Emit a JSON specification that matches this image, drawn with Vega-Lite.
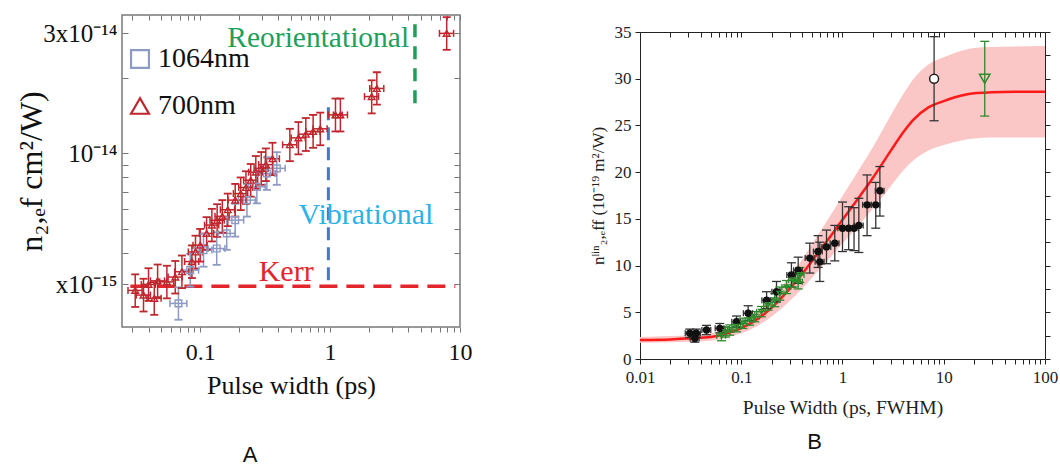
{
  "$schema": "https://vega.github.io/schema/vega-lite/v6.json",
  "background": "white",
  "padding": {"left": 15, "top": 12, "right": 0, "bottom": 0},
  "spacing": 115,
  "resolve": {"scale": {"color": "independent", "shape": "independent"}, "legend": {"color": "independent", "shape": "independent"}},
  "datasets": {
    "aPts": [
      {"s":"1064nm","x":0.068,"y":2.52,"xlo":0.0585,"xhi":0.0789,"ylo":2.17,"yhi":2.92},
      {"s":"1064nm","x":0.0838,"y":3.42,"xlo":0.0721,"xhi":0.0972,"ylo":2.94,"yhi":3.97},
      {"s":"1064nm","x":0.106,"y":4.11,"xlo":0.0912,"xhi":0.123,"ylo":3.53,"yhi":4.77},
      {"s":"1064nm","x":0.134,"y":4.17,"xlo":0.115,"xhi":0.155,"ylo":3.59,"yhi":4.84},
      {"s":"1064nm","x":0.16,"y":4.79,"xlo":0.138,"xhi":0.186,"ylo":4.12,"yhi":5.56},
      {"s":"1064nm","x":0.186,"y":5.41,"xlo":0.16,"xhi":0.216,"ylo":4.65,"yhi":6.28},
      {"s":"1064nm","x":0.229,"y":6.5,"xlo":0.197,"xhi":0.266,"ylo":5.59,"yhi":7.54},
      {"s":"1064nm","x":0.273,"y":7.34,"xlo":0.235,"xhi":0.317,"ylo":6.31,"yhi":8.51},
      {"s":"1064nm","x":0.326,"y":8.3,"xlo":0.28,"xhi":0.378,"ylo":7.14,"yhi":9.63},
      {"s":"1064nm","x":0.389,"y":8.7,"xlo":0.335,"xhi":0.451,"ylo":7.48,"yhi":10.09},
      {"s":"700nm","x":0.0316,"y":2.84,"xlo":0.0278,"xhi":0.0357,"ylo":2.44,"yhi":3.29},
      {"s":"700nm","x":0.0366,"y":2.72,"xlo":0.0322,"xhi":0.0414,"ylo":2.34,"yhi":3.16},
      {"s":"700nm","x":0.04,"y":3.0,"xlo":0.0352,"xhi":0.0452,"ylo":2.58,"yhi":3.48},
      {"s":"700nm","x":0.0443,"y":2.64,"xlo":0.039,"xhi":0.05,"ylo":2.27,"yhi":3.06},
      {"s":"700nm","x":0.047,"y":3.1,"xlo":0.0414,"xhi":0.0531,"ylo":2.67,"yhi":3.6},
      {"s":"700nm","x":0.0554,"y":3.07,"xlo":0.0488,"xhi":0.0626,"ylo":2.64,"yhi":3.56},
      {"s":"700nm","x":0.0643,"y":3.21,"xlo":0.0566,"xhi":0.0727,"ylo":2.76,"yhi":3.72},
      {"s":"700nm","x":0.0723,"y":3.37,"xlo":0.0636,"xhi":0.0817,"ylo":2.9,"yhi":3.91},
      {"s":"700nm","x":0.0863,"y":3.7,"xlo":0.0759,"xhi":0.0975,"ylo":3.18,"yhi":4.29},
      {"s":"700nm","x":0.092,"y":4.04,"xlo":0.081,"xhi":0.104,"ylo":3.47,"yhi":4.69},
      {"s":"700nm","x":0.1,"y":4.3,"xlo":0.088,"xhi":0.113,"ylo":3.7,"yhi":4.99},
      {"s":"700nm","x":0.112,"y":4.79,"xlo":0.0986,"xhi":0.127,"ylo":4.12,"yhi":5.56},
      {"s":"700nm","x":0.123,"y":5.17,"xlo":0.108,"xhi":0.139,"ylo":4.45,"yhi":6.0},
      {"s":"700nm","x":0.135,"y":5.4,"xlo":0.119,"xhi":0.153,"ylo":4.64,"yhi":6.26},
      {"s":"700nm","x":0.148,"y":5.6,"xlo":0.13,"xhi":0.167,"ylo":4.82,"yhi":6.5},
      {"s":"700nm","x":0.163,"y":5.95,"xlo":0.143,"xhi":0.184,"ylo":5.12,"yhi":6.9},
      {"s":"700nm","x":0.186,"y":6.5,"xlo":0.164,"xhi":0.21,"ylo":5.59,"yhi":7.54},
      {"s":"700nm","x":0.205,"y":6.9,"xlo":0.18,"xhi":0.232,"ylo":5.93,"yhi":8.0},
      {"s":"700nm","x":0.225,"y":7.3,"xlo":0.198,"xhi":0.254,"ylo":6.28,"yhi":8.47},
      {"s":"700nm","x":0.245,"y":7.8,"xlo":0.216,"xhi":0.277,"ylo":6.71,"yhi":9.05},
      {"s":"700nm","x":0.268,"y":8.4,"xlo":0.236,"xhi":0.303,"ylo":7.22,"yhi":9.74},
      {"s":"700nm","x":0.295,"y":8.7,"xlo":0.26,"xhi":0.333,"ylo":7.48,"yhi":10.1},
      {"s":"700nm","x":0.32,"y":9.0,"xlo":0.282,"xhi":0.362,"ylo":7.74,"yhi":10.44},
      {"s":"700nm","x":0.36,"y":9.5,"xlo":0.317,"xhi":0.407,"ylo":8.17,"yhi":11.0},
      {"s":"700nm","x":0.49,"y":10.8,"xlo":0.431,"xhi":0.554,"ylo":9.29,"yhi":12.5},
      {"s":"700nm","x":0.57,"y":11.5,"xlo":0.502,"xhi":0.644,"ylo":9.89,"yhi":13.3},
      {"s":"700nm","x":0.65,"y":11.9,"xlo":0.572,"xhi":0.735,"ylo":10.2,"yhi":13.8},
      {"s":"700nm","x":0.74,"y":12.2,"xlo":0.651,"xhi":0.836,"ylo":10.5,"yhi":14.2},
      {"s":"700nm","x":0.84,"y":12.5,"xlo":0.739,"xhi":0.949,"ylo":10.75,"yhi":14.5},
      {"s":"700nm","x":1.1,"y":14.2,"xlo":0.968,"xhi":1.24,"ylo":12.2,"yhi":16.5},
      {"s":"700nm","x":1.2,"y":14.2,"xlo":1.06,"xhi":1.36,"ylo":12.2,"yhi":16.5},
      {"s":"700nm","x":2.09,"y":16.8,"xlo":1.84,"xhi":2.36,"ylo":14.4,"yhi":19.5},
      {"s":"700nm","x":2.29,"y":18.1,"xlo":2.02,"xhi":2.59,"ylo":15.6,"yhi":21.0},
      {"s":"700nm","x":7.9,"y":30.0,"xlo":6.95,"xhi":8.93,"ylo":25.8,"yhi":34.8}
    ],
    "bCurve": [
      {"x":0.01,"fit":2.03,"lo":1.75,"hi":2.35},
      {"x":0.02,"fit":2.1,"lo":1.8,"hi":2.45},
      {"x":0.03,"fit":2.2,"lo":1.85,"hi":2.55},
      {"x":0.05,"fit":2.35,"lo":1.95,"hi":2.75},
      {"x":0.07,"fit":2.7,"lo":2.25,"hi":3.15},
      {"x":0.1,"fit":3.3,"lo":2.75,"hi":3.85},
      {"x":0.15,"fit":4.4,"lo":3.65,"hi":5.15},
      {"x":0.2,"fit":5.5,"lo":4.55,"hi":6.45},
      {"x":0.3,"fit":7.5,"lo":6.2,"hi":8.8},
      {"x":0.4,"fit":9.1,"lo":7.55,"hi":10.65},
      {"x":0.5,"fit":10.5,"lo":8.7,"hi":12.3},
      {"x":0.7,"fit":12.6,"lo":10.45,"hi":14.75},
      {"x":1.0,"fit":14.9,"lo":12.35,"hi":17.45},
      {"x":1.5,"fit":17.5,"lo":14.5,"hi":20.5},
      {"x":2.0,"fit":19.4,"lo":16.1,"hi":22.7},
      {"x":3.0,"fit":22.3,"lo":18.5,"hi":26.1},
      {"x":4.0,"fit":24.3,"lo":20.2,"hi":28.4},
      {"x":5.0,"fit":25.6,"lo":21.25,"hi":29.95},
      {"x":7.0,"fit":26.9,"lo":22.3,"hi":31.5},
      {"x":10,"fit":27.6,"lo":22.9,"hi":32.3},
      {"x":15,"fit":28.2,"lo":23.4,"hi":33.0},
      {"x":20,"fit":28.45,"lo":23.6,"hi":33.3},
      {"x":30,"fit":28.55,"lo":23.7,"hi":33.4},
      {"x":50,"fit":28.6,"lo":23.7,"hi":33.45},
      {"x":100,"fit":28.6,"lo":23.7,"hi":33.5}
    ],
    "bPts": [
      {"grp":"black","x":0.031,"y":2.75,"xlo":0.028,"xhi":0.034,"ylo":2.3,"yhi":3.2},
      {"grp":"black","x":0.0348,"y":2.2,"xlo":0.0313,"xhi":0.0383,"ylo":1.8,"yhi":2.6},
      {"grp":"black","x":0.036,"y":2.75,"xlo":0.0324,"xhi":0.0396,"ylo":2.3,"yhi":3.2},
      {"grp":"black","x":0.0454,"y":3.1,"xlo":0.0409,"xhi":0.05,"ylo":2.6,"yhi":3.6},
      {"grp":"black","x":0.0614,"y":3.28,"xlo":0.0553,"xhi":0.0675,"ylo":2.8,"yhi":3.8},
      {"grp":"black","x":0.0898,"y":4.0,"xlo":0.0808,"xhi":0.0988,"ylo":3.4,"yhi":4.6},
      {"grp":"black","x":0.117,"y":4.9,"xlo":0.105,"xhi":0.129,"ylo":4.1,"yhi":5.7},
      {"grp":"black","x":0.178,"y":6.3,"xlo":0.16,"xhi":0.196,"ylo":5.4,"yhi":7.2},
      {"grp":"black","x":0.223,"y":7.2,"xlo":0.201,"xhi":0.245,"ylo":6.1,"yhi":8.3},
      {"grp":"black","x":0.313,"y":9.0,"xlo":0.282,"xhi":0.344,"ylo":7.7,"yhi":10.3},
      {"grp":"black","x":0.365,"y":9.5,"xlo":0.329,"xhi":0.402,"ylo":8.1,"yhi":10.9},
      {"grp":"black","x":0.475,"y":10.8,"xlo":0.428,"xhi":0.523,"ylo":9.2,"yhi":12.4},
      {"grp":"black","x":0.574,"y":11.5,"xlo":0.517,"xhi":0.631,"ylo":9.8,"yhi":13.2},
      {"grp":"black","x":0.597,"y":10.4,"xlo":0.537,"xhi":0.657,"ylo":8.3,"yhi":12.5},
      {"grp":"black","x":0.695,"y":12.0,"xlo":0.626,"xhi":0.765,"ylo":10.2,"yhi":13.8},
      {"grp":"black","x":0.839,"y":12.4,"xlo":0.755,"xhi":0.923,"ylo":10.5,"yhi":14.3},
      {"grp":"black","x":1.0,"y":14.0,"xlo":0.9,"xhi":1.1,"ylo":11.5,"yhi":16.8},
      {"grp":"black","x":1.15,"y":14.0,"xlo":1.04,"xhi":1.27,"ylo":11.7,"yhi":16.3},
      {"grp":"black","x":1.3,"y":14.0,"xlo":1.17,"xhi":1.43,"ylo":11.6,"yhi":16.2},
      {"grp":"black","x":1.45,"y":14.3,"xlo":1.31,"xhi":1.6,"ylo":11.4,"yhi":17.2},
      {"grp":"black","x":1.75,"y":16.5,"xlo":1.58,"xhi":1.93,"ylo":13.2,"yhi":19.7},
      {"grp":"black","x":2.13,"y":16.5,"xlo":1.92,"xhi":2.34,"ylo":14.0,"yhi":18.9},
      {"grp":"black","x":2.34,"y":18.0,"xlo":2.11,"xhi":2.57,"ylo":15.3,"yhi":20.6},
      {"grp":"green","x":0.0638,"y":2.5,"xlo":0.0574,"xhi":0.0702,"ylo":1.95,"yhi":3.05},
      {"grp":"green","x":0.07,"y":2.9,"xlo":0.063,"xhi":0.077,"ylo":2.35,"yhi":3.45},
      {"grp":"green","x":0.077,"y":3.1,"xlo":0.0693,"xhi":0.0847,"ylo":2.55,"yhi":3.65},
      {"grp":"green","x":0.0898,"y":3.46,"xlo":0.0808,"xhi":0.0988,"ylo":2.91,"yhi":4.01},
      {"grp":"green","x":0.104,"y":3.82,"xlo":0.0936,"xhi":0.114,"ylo":3.27,"yhi":4.37},
      {"grp":"green","x":0.121,"y":4.17,"xlo":0.109,"xhi":0.133,"ylo":3.62,"yhi":4.72},
      {"grp":"green","x":0.136,"y":4.53,"xlo":0.122,"xhi":0.15,"ylo":3.98,"yhi":5.08},
      {"grp":"green","x":0.158,"y":5.07,"xlo":0.142,"xhi":0.174,"ylo":4.52,"yhi":5.62},
      {"grp":"green","x":0.184,"y":5.78,"xlo":0.166,"xhi":0.202,"ylo":5.23,"yhi":6.33},
      {"grp":"green","x":0.214,"y":6.3,"xlo":0.193,"xhi":0.235,"ylo":5.6,"yhi":7.0},
      {"grp":"green","x":0.24,"y":7.0,"xlo":0.216,"xhi":0.264,"ylo":6.3,"yhi":7.7},
      {"grp":"green","x":0.28,"y":7.7,"xlo":0.252,"xhi":0.308,"ylo":7.0,"yhi":8.4},
      {"grp":"green","x":0.325,"y":8.45,"xlo":0.293,"xhi":0.358,"ylo":7.7,"yhi":9.2},
      {"grp":"green","x":0.365,"y":8.27,"xlo":0.329,"xhi":0.402,"ylo":7.5,"yhi":9.05},
      {"grp":"green","x":0.379,"y":9.0,"xlo":0.341,"xhi":0.417,"ylo":8.2,"yhi":9.8},
      {"grp":"open","x":8.03,"y":30,"xlo":8.03,"xhi":8.03,"ylo":25.5,"yhi":34.5},
      {"grp":"tri","x":25.4,"y":30,"xlo":25.4,"xhi":25.4,"ylo":26.0,"yhi":34.0}
    ]
  },
  "hconcat": [
    {
      "width": 338,
      "height": 312,
      "view": {"stroke": "#7a7a7a", "strokeWidth": 1.5},
      "title": {"text": "A", "orient": "bottom", "anchor": "middle", "frame": "group", "dx": -41, "offset": 47, "font": "Liberation Sans", "fontSize": 22, "fontWeight": "normal", "color": "#111111"},
      "resolve": {"scale": {"x": "independent", "y": "independent"}},
      "layer": [
        {
          "layer": [
            {
              "data": {"name": "aPts"},
              "mark": {"type": "point", "opacity": 0},
              "encoding": {
                "x": {"field": "x", "type": "quantitative", "scale": {"type": "log", "domain": [0.025, 10], "nice": false},
                  "axis": {"orient": "bottom", "values": [0.03,0.04,0.05,0.06,0.07,0.08,0.09,0.1,0.2,0.3,0.4,0.5,0.6,0.7,0.8,0.9,1,2,3,4,5,6,7,8,9,10], "format": "~g", "labelExpr": "(datum.value==0.1||datum.value==1||datum.value==10)?datum.label:''", "domain": false, "grid": false, "tickSize": 5, "tickColor": "#777777", "labelFont": "Liberation Serif", "labelFontSize": 24, "labelColor": "#111111", "labelPadding": 8, "labelFlush": false, "labelOverlap": false, "title": "Pulse width (ps)", "titleFont": "Liberation Serif", "titleFontSize": 26, "titleFontWeight": "normal", "titleColor": "#111111", "titlePadding": 8}},
                "y": {"field": "y", "type": "quantitative", "scale": {"type": "log", "domain": [2.03, 35.5], "nice": false},
                  "axis": {"orient": "left", "values": [3,4,5,6,7,8,9,10,20,30], "labelExpr": "datum.value==30?'3x10⁻¹⁴':(datum.value==10?'10⁻¹⁴':(datum.value==3?'x10⁻¹⁵':''))", "domain": false, "grid": false, "tickSize": -6, "tickColor": "#777777", "labelFont": "Liberation Serif", "labelFontSize": 25, "labelColor": "#111111", "labelPadding": 11, "labelOverlap": false, "title": "n₂,ₑf  cm²/W)", "titleFont": "Liberation Serif", "titleFontSize": 32, "titleFontWeight": "normal", "titleColor": "#111111", "titlePadding": -6}}
              }
            },
            {
              "data": {"values": [{"x": 0.029, "x2": 9.2, "y": 2.95}]},
              "mark": {"type": "rule", "color": "#e3262b", "strokeWidth": 3.5, "strokeDash": [18, 9]},
              "encoding": {
                "x": {"field": "x", "type": "quantitative", "scale": {"type": "log", "domain": [0.025, 10], "nice": false}},
                "x2": {"field": "x2"},
                "y": {"field": "y", "type": "quantitative", "scale": {"type": "log", "domain": [2.03, 35.5], "nice": false}}
              }
            },
            {
              "data": {"values": [{"x": 0.97, "y": 3.12, "y2": 15.5}]},
              "mark": {"type": "rule", "color": "#4a78c2", "strokeWidth": 3, "strokeDash": [13, 7]},
              "encoding": {
                "x": {"field": "x", "type": "quantitative", "scale": {"type": "log", "domain": [0.025, 10], "nice": false}},
                "y": {"field": "y", "type": "quantitative", "scale": {"type": "log", "domain": [2.03, 35.5], "nice": false}},
                "y2": {"field": "y2"}
              }
            },
            {
              "data": {"values": [{"x": 4.5, "y": 15.8, "y2": 35.5}]},
              "mark": {"type": "rule", "color": "#1f9e55", "strokeWidth": 3.5, "strokeDash": [13, 9]},
              "encoding": {
                "x": {"field": "x", "type": "quantitative", "scale": {"type": "log", "domain": [0.025, 10], "nice": false}},
                "y": {"field": "y", "type": "quantitative", "scale": {"type": "log", "domain": [2.03, 35.5], "nice": false}},
                "y2": {"field": "y2"}
              }
            },
            {
              "data": {"name": "aPts"},
              "mark": {"type": "rule", "strokeWidth": 1.5},
              "encoding": {
                "x": {"field": "xlo", "type": "quantitative", "scale": {"type": "log", "domain": [0.025, 10], "nice": false}},
                "x2": {"field": "xhi"},
                "y": {"field": "y", "type": "quantitative", "scale": {"type": "log", "domain": [2.03, 35.5], "nice": false}},
                "stroke": {"field": "s", "type": "nominal", "scale": {"domain": ["1064nm", "700nm"], "range": ["#8c9ac4", "#c0262d"]}, "legend": null}
              }
            },
            {
              "data": {"name": "aPts"},
              "mark": {"type": "rule", "strokeWidth": 1.5},
              "encoding": {
                "x": {"field": "x", "type": "quantitative", "scale": {"type": "log", "domain": [0.025, 10], "nice": false}},
                "y": {"field": "ylo", "type": "quantitative", "scale": {"type": "log", "domain": [2.03, 35.5], "nice": false}},
                "y2": {"field": "yhi"},
                "stroke": {"field": "s", "type": "nominal", "scale": {"domain": ["1064nm", "700nm"], "range": ["#8c9ac4", "#c0262d"]}, "legend": null}
              }
            },
            {
              "data": {"name": "aPts"},
              "mark": {"type": "tick", "orient": "horizontal", "size": 8, "thickness": 1.8, "opacity": 1},
              "encoding": {
                "x": {"field": "x", "type": "quantitative", "scale": {"type": "log", "domain": [0.025, 10], "nice": false}},
                "y": {"field": "yhi", "type": "quantitative", "scale": {"type": "log", "domain": [2.03, 35.5], "nice": false}},
                "fill": {"field": "s", "type": "nominal", "scale": {"domain": ["1064nm", "700nm"], "range": ["#8c9ac4", "#c0262d"]}, "legend": null}
              }
            },
            {
              "data": {"name": "aPts"},
              "mark": {"type": "tick", "orient": "horizontal", "size": 8, "thickness": 1.8, "opacity": 1},
              "encoding": {
                "x": {"field": "x", "type": "quantitative", "scale": {"type": "log", "domain": [0.025, 10], "nice": false}},
                "y": {"field": "ylo", "type": "quantitative", "scale": {"type": "log", "domain": [2.03, 35.5], "nice": false}},
                "fill": {"field": "s", "type": "nominal", "scale": {"domain": ["1064nm", "700nm"], "range": ["#8c9ac4", "#c0262d"]}, "legend": null}
              }
            },
            {
              "data": {"name": "aPts"},
              "mark": {"type": "tick", "orient": "vertical", "size": 7, "thickness": 1.5, "opacity": 1},
              "encoding": {
                "x": {"field": "xlo", "type": "quantitative", "scale": {"type": "log", "domain": [0.025, 10], "nice": false}},
                "y": {"field": "y", "type": "quantitative", "scale": {"type": "log", "domain": [2.03, 35.5], "nice": false}},
                "fill": {"field": "s", "type": "nominal", "scale": {"domain": ["1064nm", "700nm"], "range": ["#8c9ac4", "#c0262d"]}, "legend": null}
              }
            },
            {
              "data": {"name": "aPts"},
              "mark": {"type": "tick", "orient": "vertical", "size": 7, "thickness": 1.5, "opacity": 1},
              "encoding": {
                "x": {"field": "xhi", "type": "quantitative", "scale": {"type": "log", "domain": [0.025, 10], "nice": false}},
                "y": {"field": "y", "type": "quantitative", "scale": {"type": "log", "domain": [2.03, 35.5], "nice": false}},
                "fill": {"field": "s", "type": "nominal", "scale": {"domain": ["1064nm", "700nm"], "range": ["#8c9ac4", "#c0262d"]}, "legend": null}
              }
            },
            {
              "data": {"name": "aPts"},
              "mark": {"type": "point", "filled": false, "strokeWidth": 1.4, "size": 45, "opacity": 1},
              "encoding": {
                "x": {"field": "x", "type": "quantitative", "scale": {"type": "log", "domain": [0.025, 10], "nice": false}},
                "y": {"field": "y", "type": "quantitative", "scale": {"type": "log", "domain": [2.03, 35.5], "nice": false}},
                "color": {"field": "s", "type": "nominal", "scale": {"domain": ["1064nm", "700nm"], "range": ["#8c9ac4", "#c0262d"]},
                  "legend": {"orient": "none", "legendX": 4, "legendY": 30, "title": null, "padding": 0, "labelFont": "Liberation Serif", "labelFontSize": 28, "labelColor": "#111111", "labelExpr": "datum.label=='700nm'?' 700nm':datum.label", "symbolSize": 320, "symbolStrokeWidth": 2.2, "symbolOpacity": 1, "rowPadding": 19, "labelOffset": 4}},
                "shape": {"field": "s", "type": "nominal", "scale": {"domain": ["1064nm", "700nm"], "range": ["square", "triangle-up"]},
                  "legend": {"orient": "none", "legendX": 4, "legendY": 30, "title": null, "padding": 0, "labelFont": "Liberation Serif", "labelFontSize": 28, "labelColor": "#111111", "labelExpr": "datum.label=='700nm'?' 700nm':datum.label", "symbolSize": 320, "symbolStrokeWidth": 2.2, "symbolOpacity": 1, "rowPadding": 19, "labelOffset": 4}}
              }
            },
            {
              "data": {"values": [{"x": 0.81, "y": 28.7, "label": "Reorientational"}]},
              "mark": {"type": "text", "font": "Liberation Serif", "fontSize": 29.5, "color": "#1fa05a", "align": "center", "baseline": "middle"},
              "encoding": {
                "x": {"field": "x", "type": "quantitative", "scale": {"type": "log", "domain": [0.025, 10], "nice": false}},
                "y": {"field": "y", "type": "quantitative", "scale": {"type": "log", "domain": [2.03, 35.5], "nice": false}},
                "text": {"field": "label"}
              }
            },
            {
              "data": {"values": [{"x": 1.89, "y": 5.66, "label": "Vibrational"}]},
              "mark": {"type": "text", "font": "Liberation Serif", "fontSize": 30, "color": "#2cb3e6", "align": "center", "baseline": "middle"},
              "encoding": {
                "x": {"field": "x", "type": "quantitative", "scale": {"type": "log", "domain": [0.025, 10], "nice": false}},
                "y": {"field": "y", "type": "quantitative", "scale": {"type": "log", "domain": [2.03, 35.5], "nice": false}},
                "text": {"field": "label"}
              }
            },
            {
              "data": {"values": [{"x": 0.459, "y": 3.36, "label": "Kerr"}]},
              "mark": {"type": "text", "font": "Liberation Serif", "fontSize": 30, "color": "#e3262b", "align": "center", "baseline": "middle"},
              "encoding": {
                "x": {"field": "x", "type": "quantitative", "scale": {"type": "log", "domain": [0.025, 10], "nice": false}},
                "y": {"field": "y", "type": "quantitative", "scale": {"type": "log", "domain": [2.03, 35.5], "nice": false}},
                "text": {"field": "label"}
              }
            }
          ]
        },
        {
          "data": {"name": "aPts"},
          "mark": {"type": "point", "opacity": 0},
          "encoding": {
            "x": {"field": "x", "type": "quantitative", "scale": {"type": "log", "domain": [0.025, 10], "nice": false},
              "axis": {"orient": "top", "values": [0.03,0.04,0.05,0.06,0.07,0.08,0.09,0.1,0.2,0.3,0.4,0.5,0.6,0.7,0.8,0.9,1,2,3,4,5,6,7,8,9,10], "labels": false, "domain": false, "grid": false, "tickSize": -5, "tickColor": "#777777", "title": null}},
            "y": {"field": "y", "type": "quantitative", "scale": {"type": "log", "domain": [2.03, 35.5], "nice": false},
              "axis": {"orient": "right", "values": [3,4,5,6,7,8,9,10,20,30], "labels": false, "domain": false, "grid": false, "tickSize": -6, "tickColor": "#777777", "title": null}}
          }
        }
      ]
    },
    {
      "spacing": 6,
      "vconcat": [
        {
          "width": 405,
          "height": 1,
          "view": {"stroke": null},
          "data": {"values": []},
          "mark": {"type": "point", "opacity": 0},
          "encoding": {}
        },
        {
          "width": 405,
          "height": 327,
          "view": {"stroke": "#222222", "strokeWidth": 1},
          "title": {"text": "B", "orient": "bottom", "anchor": "middle", "frame": "group", "dx": -28, "offset": 15, "font": "Liberation Sans", "fontSize": 22, "fontWeight": "normal", "color": "#111111"},
          "resolve": {"scale": {"x": "independent", "y": "independent"}},
          "layer": [
            {
              "layer": [
                {
                  "data": {"name": "bCurve"},
                  "mark": {"type": "area", "color": "#fbc6c6", "opacity": 1, "interpolate": "monotone"},
                  "encoding": {
                    "x": {"field": "x", "type": "quantitative", "scale": {"type": "log", "domain": [0.01, 100], "nice": false},
                      "axis": {"orient": "bottom", "values": [0.01,0.02,0.03,0.04,0.05,0.06,0.07,0.08,0.09,0.1,0.2,0.3,0.4,0.5,0.6,0.7,0.8,0.9,1,2,3,4,5,6,7,8,9,10,20,30,40,50,60,70,80,90,100], "format": "~g", "labelExpr": "(datum.value==0.01||datum.value==0.1||datum.value==1||datum.value==10||datum.value==100)?datum.label:''", "domain": false, "grid": false, "tickSize": 5, "tickColor": "#222222", "labelFont": "Liberation Serif", "labelFontSize": 17, "labelColor": "#222222", "labelPadding": 5, "labelFlush": false, "labelOverlap": false, "title": "Pulse Width (ps, FWHM)", "titleFont": "Liberation Serif", "titleFontSize": 19.5, "titleFontWeight": "normal", "titleColor": "#222222", "titlePadding": 13}},
                    "y": {"field": "lo", "type": "quantitative", "scale": {"domain": [0, 35], "nice": false, "zero": false},
                      "axis": {"orient": "left", "values": [0,2.5,5,7.5,10,12.5,15,17.5,20,22.5,25,27.5,30,32.5,35], "labelExpr": "datum.value%5==0?datum.label:''", "domain": false, "grid": false, "tickSize": 5, "tickColor": "#222222", "labelFont": "Liberation Serif", "labelFontSize": 17, "labelColor": "#222222", "labelPadding": 4, "labelOverlap": false, "title": "nˡⁱⁿ₂,ₑff (10⁻¹⁹ m²/W)", "titleFont": "Liberation Serif", "titleFontSize": 17, "titleFontWeight": "normal", "titleColor": "#222222", "titlePadding": 7}},
                    "y2": {"field": "hi"}
                  }
                },
                {
                  "data": {"name": "bCurve"},
                  "mark": {"type": "line", "color": "#ff1a1a", "strokeWidth": 2.5, "interpolate": "monotone"},
                  "encoding": {
                    "x": {"field": "x", "type": "quantitative", "scale": {"type": "log", "domain": [0.01, 100], "nice": false}},
                    "y": {"field": "fit", "type": "quantitative", "scale": {"domain": [0, 35], "nice": false, "zero": false}}
                  }
                },
                {
                  "data": {"name": "bPts"},
                  "mark": {"type": "rule", "strokeWidth": 1.3},
                  "encoding": {
                    "x": {"field": "x", "type": "quantitative", "scale": {"type": "log", "domain": [0.01, 100], "nice": false}},
                    "y": {"field": "ylo", "type": "quantitative", "scale": {"domain": [0, 35], "nice": false, "zero": false}},
                    "y2": {"field": "yhi"},
                    "color": {"field": "grp", "type": "nominal", "scale": {"domain": ["black", "green", "open", "tri"], "range": ["#333333", "#2d8a2d", "#333333", "#2d8a2d"]}, "legend": null}
                  }
                },
                {
                  "data": {"name": "bPts"},
                  "transform": [{"filter": "datum.grp=='black'||datum.grp=='green'"}],
                  "mark": {"type": "rule", "strokeWidth": 1.3},
                  "encoding": {
                    "x": {"field": "xlo", "type": "quantitative", "scale": {"type": "log", "domain": [0.01, 100], "nice": false}},
                    "x2": {"field": "xhi"},
                    "y": {"field": "y", "type": "quantitative", "scale": {"domain": [0, 35], "nice": false, "zero": false}},
                    "color": {"field": "grp", "type": "nominal", "scale": {"domain": ["black", "green", "open", "tri"], "range": ["#333333", "#2d8a2d", "#333333", "#2d8a2d"]}, "legend": null}
                  }
                },
                {
                  "data": {"name": "bPts"},
                  "mark": {"type": "tick", "orient": "horizontal", "size": 9, "thickness": 1.3, "opacity": 1},
                  "encoding": {
                    "x": {"field": "x", "type": "quantitative", "scale": {"type": "log", "domain": [0.01, 100], "nice": false}},
                    "y": {"field": "yhi", "type": "quantitative", "scale": {"domain": [0, 35], "nice": false, "zero": false}},
                    "color": {"field": "grp", "type": "nominal", "scale": {"domain": ["black", "green", "open", "tri"], "range": ["#333333", "#2d8a2d", "#333333", "#2d8a2d"]}, "legend": null}
                  }
                },
                {
                  "data": {"name": "bPts"},
                  "mark": {"type": "tick", "orient": "horizontal", "size": 9, "thickness": 1.3, "opacity": 1},
                  "encoding": {
                    "x": {"field": "x", "type": "quantitative", "scale": {"type": "log", "domain": [0.01, 100], "nice": false}},
                    "y": {"field": "ylo", "type": "quantitative", "scale": {"domain": [0, 35], "nice": false, "zero": false}},
                    "color": {"field": "grp", "type": "nominal", "scale": {"domain": ["black", "green", "open", "tri"], "range": ["#333333", "#2d8a2d", "#333333", "#2d8a2d"]}, "legend": null}
                  }
                },
                {
                  "data": {"name": "bPts"},
                  "transform": [{"filter": "datum.grp=='black'||datum.grp=='green'"}],
                  "mark": {"type": "tick", "orient": "vertical", "size": 6, "thickness": 1.3, "opacity": 1},
                  "encoding": {
                    "x": {"field": "xlo", "type": "quantitative", "scale": {"type": "log", "domain": [0.01, 100], "nice": false}},
                    "y": {"field": "y", "type": "quantitative", "scale": {"domain": [0, 35], "nice": false, "zero": false}},
                    "color": {"field": "grp", "type": "nominal", "scale": {"domain": ["black", "green", "open", "tri"], "range": ["#333333", "#2d8a2d", "#333333", "#2d8a2d"]}, "legend": null}
                  }
                },
                {
                  "data": {"name": "bPts"},
                  "transform": [{"filter": "datum.grp=='black'||datum.grp=='green'"}],
                  "mark": {"type": "tick", "orient": "vertical", "size": 6, "thickness": 1.3, "opacity": 1},
                  "encoding": {
                    "x": {"field": "xhi", "type": "quantitative", "scale": {"type": "log", "domain": [0.01, 100], "nice": false}},
                    "y": {"field": "y", "type": "quantitative", "scale": {"domain": [0, 35], "nice": false, "zero": false}},
                    "color": {"field": "grp", "type": "nominal", "scale": {"domain": ["black", "green", "open", "tri"], "range": ["#333333", "#2d8a2d", "#333333", "#2d8a2d"]}, "legend": null}
                  }
                },
                {
                  "data": {"name": "bPts"},
                  "transform": [{"filter": "datum.grp=='black'"}],
                  "mark": {"type": "point", "shape": "circle", "filled": true, "size": 55, "color": "#111111", "opacity": 1},
                  "encoding": {
                    "x": {"field": "x", "type": "quantitative", "scale": {"type": "log", "domain": [0.01, 100], "nice": false}},
                    "y": {"field": "y", "type": "quantitative", "scale": {"domain": [0, 35], "nice": false, "zero": false}}
                  }
                },
                {
                  "data": {"name": "bPts"},
                  "transform": [{"filter": "datum.grp=='green'"}],
                  "mark": {"type": "point", "shape": "triangle-down", "filled": false, "size": 25, "color": "#2d8a2d", "strokeWidth": 1.5, "opacity": 1},
                  "encoding": {
                    "x": {"field": "x", "type": "quantitative", "scale": {"type": "log", "domain": [0.01, 100], "nice": false}},
                    "y": {"field": "y", "type": "quantitative", "scale": {"domain": [0, 35], "nice": false, "zero": false}}
                  }
                },
                {
                  "data": {"name": "bPts"},
                  "transform": [{"filter": "datum.grp=='open'"}],
                  "mark": {"type": "point", "shape": "circle", "filled": false, "fill": "white", "fillOpacity": 1, "size": 80, "color": "#222222", "strokeWidth": 1.5, "opacity": 1},
                  "encoding": {
                    "x": {"field": "x", "type": "quantitative", "scale": {"type": "log", "domain": [0.01, 100], "nice": false}},
                    "y": {"field": "y", "type": "quantitative", "scale": {"domain": [0, 35], "nice": false, "zero": false}}
                  }
                },
                {
                  "data": {"name": "bPts"},
                  "transform": [{"filter": "datum.grp=='tri'"}],
                  "mark": {"type": "point", "shape": "triangle-down", "filled": false, "size": 110, "color": "#2d8a2d", "strokeWidth": 1.5, "opacity": 1},
                  "encoding": {
                    "x": {"field": "x", "type": "quantitative", "scale": {"type": "log", "domain": [0.01, 100], "nice": false}},
                    "y": {"field": "y", "type": "quantitative", "scale": {"domain": [0, 35], "nice": false, "zero": false}}
                  }
                }
              ]
            },
            {
              "data": {"name": "bCurve"},
              "mark": {"type": "point", "opacity": 0},
              "encoding": {
                "x": {"field": "x", "type": "quantitative", "scale": {"type": "log", "domain": [0.01, 100], "nice": false},
                  "axis": {"orient": "top", "values": [0.01,0.02,0.03,0.04,0.05,0.06,0.07,0.08,0.09,0.1,0.2,0.3,0.4,0.5,0.6,0.7,0.8,0.9,1,2,3,4,5,6,7,8,9,10,20,30,40,50,60,70,80,90,100], "labels": false, "domain": false, "grid": false, "tickSize": -5, "tickColor": "#222222", "title": null}},
                "y": {"field": "fit", "type": "quantitative", "scale": {"domain": [0, 35], "nice": false, "zero": false},
                  "axis": {"orient": "right", "values": [0,2.5,5,7.5,10,12.5,15,17.5,20,22.5,25,27.5,30,32.5,35], "labels": false, "domain": false, "grid": false, "tickSize": 5, "tickColor": "#222222", "title": null}}
              }
            }
          ]
        }
      ]
    }
  ]
}
